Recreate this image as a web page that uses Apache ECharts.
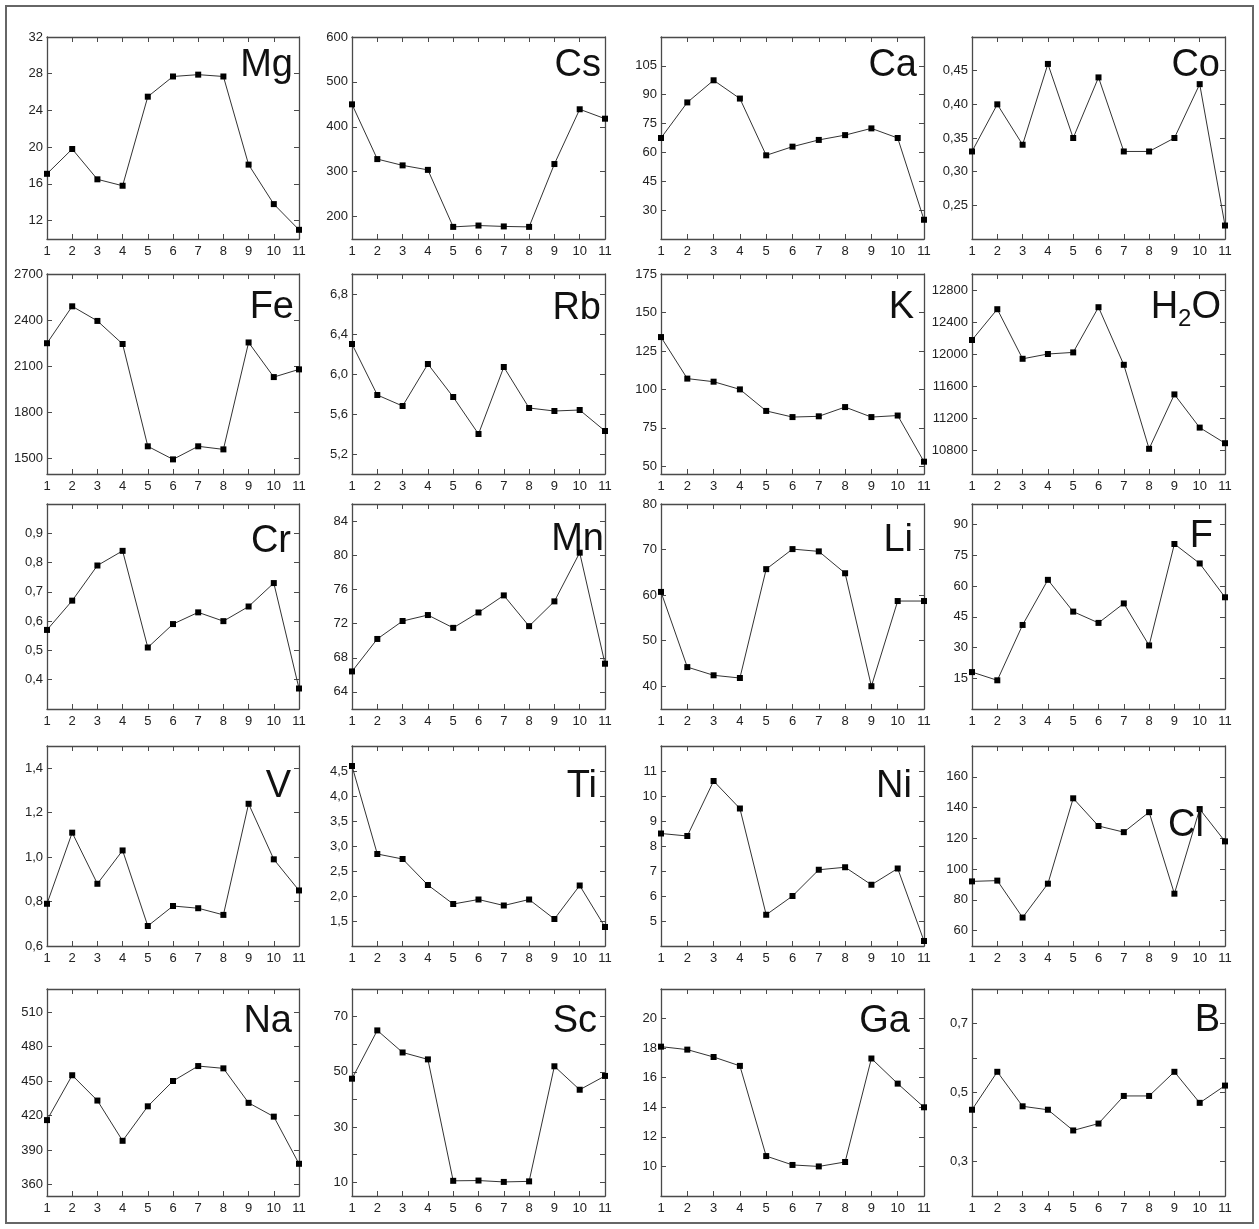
<!DOCTYPE html>
<html>
<head>
<meta charset="utf-8">
<script src="https://cdn.jsdelivr.net/npm/echarts@6/dist/echarts.min.js"></script>
<style>
  html, body { margin: 0; padding: 0; background: #fff; }
  #chart { width: 1259px; height: 1229px; }
</style>
</head>
<body>
<div id="chart"></div>
<script>
  // x categories (sample numbers)
  const samples = [1, 2, 3, 4, 5, 6, 7, 8, 9, 10, 11];

  // series values
  const Mg = [17.1, 19.8, 16.5, 15.8, 25.5, 27.7, 27.9, 27.7, 18.1, 13.8, 11.0];
  const Cs = [450, 328, 314, 304, 177, 180, 178, 177, 317, 439, 418];
  const Ca = [67.5, 86, 97.5, 88, 58.5, 63, 66.5, 69, 72.5, 67.5, 25];
  const Co = [0.33, 0.40, 0.34, 0.46, 0.35, 0.44, 0.33, 0.33, 0.35, 0.43, 0.22];
  const Fe = [2250, 2490, 2395, 2245, 1580, 1495, 1580, 1560, 2255, 2030, 2080];
  const Rb = [6.3, 5.79, 5.68, 6.1, 5.77, 5.4, 6.07, 5.66, 5.63, 5.64, 5.43];
  const K = [134, 107, 105, 100, 86, 82, 82.5, 88.5, 82, 83, 53];
  const H2O = [12175, 12560, 11940, 12000, 12020, 12585, 11865, 10815, 11495, 11080, 10885];
  const Cr = [0.57, 0.67, 0.79, 0.84, 0.51, 0.59, 0.63, 0.60, 0.65, 0.73, 0.37];
  const Mn = [66.4, 70.2, 72.3, 73.0, 71.5, 73.3, 75.3, 71.7, 74.6, 80.3, 67.3];
  const Li = [60.7, 44.2, 42.4, 41.8, 65.7, 70.1, 69.6, 64.8, 40.0, 58.7, 58.7];
  const F = [18, 14, 41, 63, 47.5, 42, 51.5, 31, 80.5, 71, 54.5];
  const V = [0.79, 1.11, 0.88, 1.03, 0.69, 0.78, 0.77, 0.74, 1.24, 0.99, 0.85];
  const Ti = [4.6, 2.84, 2.74, 2.22, 1.84, 1.93, 1.81, 1.93, 1.54, 2.21, 1.38];
  const Ni = [8.5, 8.4, 10.6, 9.5, 5.25, 6.0, 7.05, 7.15, 6.45, 7.1, 4.2];
  const Cl = [92, 92.5, 68.5, 90.5, 146, 128, 124, 137, 84, 139, 118];
  const Na = [416, 455, 433, 398, 428, 450, 463, 461, 431, 419, 378];
  const Sc = [47.5, 65, 57, 54.5, 10.5, 10.6, 10.1, 10.3, 52, 43.5, 48.5];
  const Ga = [18.1, 17.9, 17.4, 16.8, 10.7, 10.1, 10.0, 10.3, 17.3, 15.6, 14.0];
  const B = [0.45, 0.56, 0.46, 0.45, 0.39, 0.41, 0.49, 0.49, 0.56, 0.47, 0.52];

  // y tick labels
  const MgTicks = [12, 16, 20, 24, 28, 32];
  const CsTicks = [200, 300, 400, 500, 600];
  const CaTicks = [30, 45, 60, 75, 90, 105];
  const CoTicks = [0.25, 0.30, 0.35, 0.40, 0.45];
  const FeTicks = [1500, 1800, 2100, 2400, 2700];
  const RbTicks = [5.2, 5.6, 6.0, 6.4, 6.8];
  const KTicks = [50, 75, 100, 125, 150, 175];
  const H2OTicks = [10800, 11200, 11600, 12000, 12400, 12800];
  const CrTicks = [0.4, 0.5, 0.6, 0.7, 0.8, 0.9];
  const MnTicks = [64, 68, 72, 76, 80, 84];
  const LiTicks = [40, 50, 60, 70, 80];
  const FTicks = [15, 30, 45, 60, 75, 90];
  const VTicks = [0.6, 0.8, 1.0, 1.2, 1.4];
  const TiTicks = [1.5, 2.0, 2.5, 3.0, 3.5, 4.0, 4.5];
  const NiTicks = [5, 6, 7, 8, 9, 10, 11];
  const ClTicks = [60, 80, 100, 120, 140, 160];
  const NaTicks = [360, 390, 420, 450, 480, 510];
  const ScTicks = [10, 30, 50, 70];
  const ScMarks = [10, 20, 30, 40, 50, 60, 70];
  const GaTicks = [10, 12, 14, 16, 18, 20];
  const BTicks = [0.3, 0.5, 0.7];
  const BMarks = [0.3, 0.4, 0.5, 0.6, 0.7];

  // panels: name, data, axis range, labels, decimals
  const panels = [
    { name: 'Mg', data: Mg, min: 10, max: 32, ticks: MgTicks, dec: 0 },
    { name: 'Cs', data: Cs, min: 150, max: 600, ticks: CsTicks, dec: 0 },
    { name: 'Ca', data: Ca, min: 15, max: 120, ticks: CaTicks, dec: 0 },
    { name: 'Co', data: Co, min: 0.2, max: 0.5, ticks: CoTicks, dec: 2 },
    { name: 'Fe', data: Fe, min: 1400, max: 2700, ticks: FeTicks, dec: 0 },
    { name: 'Rb', data: Rb, min: 5.0, max: 7.0, ticks: RbTicks, dec: 1 },
    { name: 'K', data: K, min: 45, max: 175, ticks: KTicks, dec: 0 },
    { name: 'H2O', data: H2O, min: 10500, max: 13000, ticks: H2OTicks, dec: 0 },
    { name: 'Cr', data: Cr, min: 0.3, max: 1.0, ticks: CrTicks, dec: 1 },
    { name: 'Mn', data: Mn, min: 62, max: 86, ticks: MnTicks, dec: 0 },
    { name: 'Li', data: Li, min: 35, max: 80, ticks: LiTicks, dec: 0 },
    { name: 'F', data: F, min: 0, max: 100, ticks: FTicks, dec: 0 },
    { name: 'V', data: V, min: 0.6, max: 1.5, ticks: VTicks, dec: 1 },
    { name: 'Ti', data: Ti, min: 1.0, max: 5.0, ticks: TiTicks, dec: 1 },
    { name: 'Ni', data: Ni, min: 4, max: 12, ticks: NiTicks, dec: 0 },
    { name: 'Cl', data: Cl, min: 50, max: 180, ticks: ClTicks, dec: 0 },
    { name: 'Na', data: Na, min: 350, max: 530, ticks: NaTicks, dec: 0 },
    { name: 'Sc', data: Sc, min: 5, max: 80, ticks: ScTicks, marks: ScMarks, dec: 0 },
    { name: 'Ga', data: Ga, min: 8, max: 22, ticks: GaTicks, dec: 0 },
    { name: 'B', data: B, min: 0.2, max: 0.8, ticks: BTicks, marks: BMarks, dec: 1 }
  ];

  // layout of the plot boxes (pixels)
  const cols = [[47, 299], [352, 605], [661, 924], [972, 1225]];
  const rows = [[37, 239], [274, 474], [504, 709], [746, 946], [989, 1196]];
  // element label: right edge and baseline
  const labelPos = [
    [293, 79], [601, 79], [917, 79], [1220, 79],
    [294, 321], [601, 322], [914, 321], [1221, 321],
    [291, 555], [604, 553], [913, 554], [1213, 550],
    [291, 800], [597, 800], [912, 800], [1204, 839],
    [292, 1035], [597, 1035], [910, 1035], [1220, 1034]
  ];

  const font = '"Liberation Sans", Arial, sans-serif';
  const lineCol = '#4a4a4a';
  const fmt = dec => v => Number(v).toFixed(dec).replace('.', ',');

  const grid = [], xAxis = [], yAxis = [], series = [], graphic = [];

  panels.forEach((p, i) => {
    const c = cols[i % 4], r = rows[Math.floor(i / 4)];
    grid.push({ left: c[0], top: r[0], width: c[1] - c[0], height: r[1] - r[0] });
    const axLine = { show: true, onZero: false, lineStyle: { color: lineCol, width: 1.3 } };
    const tick = { show: true, inside: true, length: 5, lineStyle: { color: lineCol, width: 1 } };
    xAxis.push({
      type: 'value', gridIndex: i, min: 1, max: 11, interval: 1, position: 'bottom',
      axisLine: axLine, axisTick: tick, splitLine: { show: false },
      axisLabel: { show: true, margin: 6, color: '#222', fontSize: 13, fontFamily: font }
    });
    xAxis.push({
      type: 'value', gridIndex: i, min: 1, max: 11, interval: 1, position: 'top',
      axisLine: axLine, axisTick: tick, splitLine: { show: false }, axisLabel: { show: false }
    });
    const marks = p.marks || p.ticks;
    yAxis.push({
      type: 'value', gridIndex: i, min: p.min, max: p.max, position: 'left',
      axisLine: axLine, splitLine: { show: false },
      axisTick: Object.assign({}, tick, { customValues: marks }),
      axisLabel: { show: true, customValues: p.ticks, formatter: fmt(p.dec), margin: 4,
        color: '#222', fontSize: 13, fontFamily: font }
    });
    yAxis.push({
      type: 'value', gridIndex: i, min: p.min, max: p.max, position: 'right',
      axisLine: axLine, splitLine: { show: false },
      axisTick: Object.assign({}, tick, { customValues: marks }),
      axisLabel: { show: false }
    });
    series.push({
      type: 'line', name: p.name, xAxisIndex: 2 * i, yAxisIndex: 2 * i,
      data: p.data.map((v, k) => [samples[k], v]),
      symbol: 'rect', symbolSize: 6, clip: false,
      itemStyle: { color: '#000' },
      lineStyle: { color: '#333', width: 1 },
      z: 3
    });
    const lp = labelPos[i];
    const size = 38;
    const text = p.name === 'H2O' ? '{a|H}{s|2}{a|O}' : '{a|' + p.name + '}';
    graphic.push({
      type: 'text', x: lp[0], y: lp[1] - size * 0.36, z: 10,
      style: {
        text: text, align: 'right', verticalAlign: 'middle',
        rich: {
          a: { fontSize: size, fontFamily: font, fill: '#111', fontWeight: 'normal' },
          s: { fontSize: 24, fontFamily: font, fill: '#111', padding: [24, 0, 0, 0] }
        }
      }
    });
  });

  // outer frame
  graphic.push({
    type: 'rect', shape: { x: 6, y: 6, width: 1247, height: 1217 }, z: 0,
    style: { fill: 'none', stroke: '#666', lineWidth: 2 }
  });

  const chart = echarts.init(document.getElementById('chart'), null, { renderer: 'canvas' });
  chart.setOption({
    animation: false,
    backgroundColor: '#fff',
    grid: grid,
    xAxis: xAxis,
    yAxis: yAxis,
    series: series,
    graphic: graphic
  });
</script>
</body>
</html>
